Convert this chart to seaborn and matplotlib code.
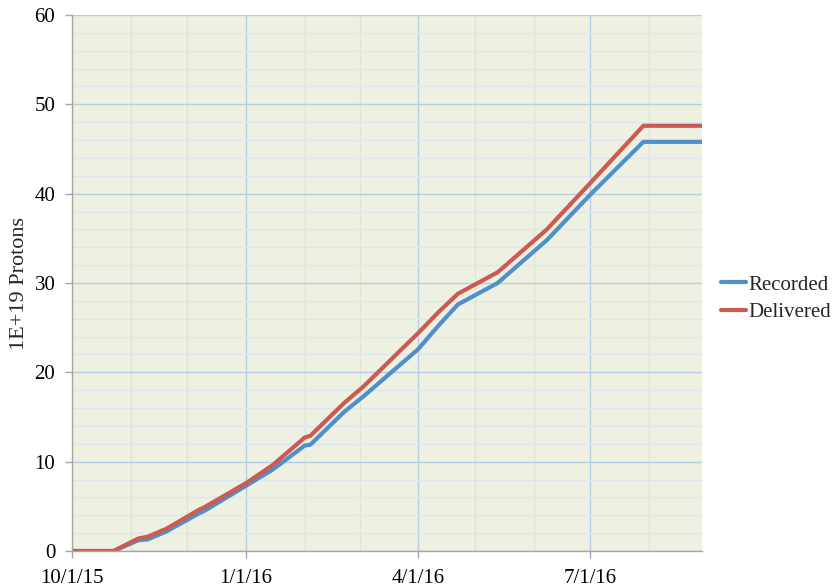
import pandas as pd
import matplotlib
matplotlib.use('Agg')
import matplotlib.pyplot as plt
import matplotlib.dates as mdates
from matplotlib.ticker import MultipleLocator, FuncFormatter
import seaborn as sns

# values (1E+19 protons, cumulative)
dates = ['2015-10-01', '2015-10-23', '2015-11-05', '2015-11-10', '2015-11-20',
         '2015-12-07', '2015-12-10', '2016-01-01', '2016-01-15', '2016-02-01',
         '2016-02-04', '2016-02-22', '2016-03-03', '2016-04-01', '2016-04-12',
         '2016-04-22', '2016-05-13', '2016-06-08', '2016-07-01', '2016-07-29',
         '2016-08-29']
recorded = [0, 0, 1.2, 1.3, 2.2, 4.2, 4.5, 7.3, 9.1, 11.8, 11.9, 15.6, 17.3,
            22.6, 25.3, 27.6, 30.0, 34.8, 39.9, 45.8, 45.8]
delivered = [0, 0, 1.4, 1.6, 2.5, 4.6, 4.9, 7.6, 9.6, 12.7, 12.9, 16.6, 18.4,
             24.4, 26.8, 28.8, 31.2, 36.0, 41.2, 47.6, 47.6]

df = pd.DataFrame({'date': pd.to_datetime(dates * 2),
                   'protons': recorded + delivered,
                   'series': ['Recorded'] * len(dates) + ['Delivered'] * len(dates)})

sns.set_theme(style='white')
plt.rcParams['font.family'] = ['Liberation Serif', 'DejaVu Serif']

fig = plt.figure(figsize=(8.32, 5.88), dpi=100)
ax = fig.add_axes([72/832, 37/588, 630/832, 536/588])
ax.set_facecolor('#eef0e2')

sns.lineplot(data=df, x='date', y='protons', hue='series',
             palette={'Recorded': '#4f8fcc', 'Delivered': '#cc5a50'},
             linewidth=3, ax=ax, legend=True)

ax.set_xlim(pd.Timestamp('2015-10-01'), pd.Timestamp('2016-08-29'))
ax.set_ylim(0, 60)
ax.yaxis.set_major_locator(MultipleLocator(10))
ax.yaxis.set_minor_locator(MultipleLocator(2))
ax.xaxis.set_major_locator(mdates.MonthLocator(bymonth=[1, 4, 7, 10]))
ax.xaxis.set_minor_locator(mdates.MonthLocator())
ax.xaxis.set_major_formatter(FuncFormatter(
    lambda v, p: '{d.month}/{d.day}/{y}'.format(d=mdates.num2date(v), y=mdates.num2date(v).strftime('%y'))))

ax.set_axisbelow(True)
ax.grid(which='minor', axis='y', color='#dde6ef', linewidth=1)
ax.grid(which='minor', axis='x', color='#dfe8cf', linewidth=1)
ax.grid(which='major', axis='both', color='#b7cde6', linewidth=1)

for s in ['top', 'right']:
    ax.spines[s].set_visible(False)
for s in ['left', 'bottom']:
    ax.spines[s].set_color('#a6a6a6')
    ax.spines[s].set_linewidth(1)
ax.tick_params(which='major', length=5, width=1, color='#a6a6a6',
               labelsize=15, labelcolor='black', pad=7)
ax.tick_params(which='minor', length=0)
ax.tick_params(axis='x', pad=8)
ax.tick_params(left=True, bottom=True)

ax.set_xlabel('')
ax.set_ylabel('1E+19 Protons', fontsize=16, labelpad=4)

handles, labels = ax.get_legend_handles_labels()
ax.legend(handles, labels, loc='center left', bbox_to_anchor=(721/832, 0.492),
          bbox_transform=fig.transFigure, frameon=False, fontsize=15,
          handlelength=1.2, handletextpad=0.1, labelspacing=0.4,
          borderpad=0, borderaxespad=0)

fig.savefig('out.png', dpi=100)
